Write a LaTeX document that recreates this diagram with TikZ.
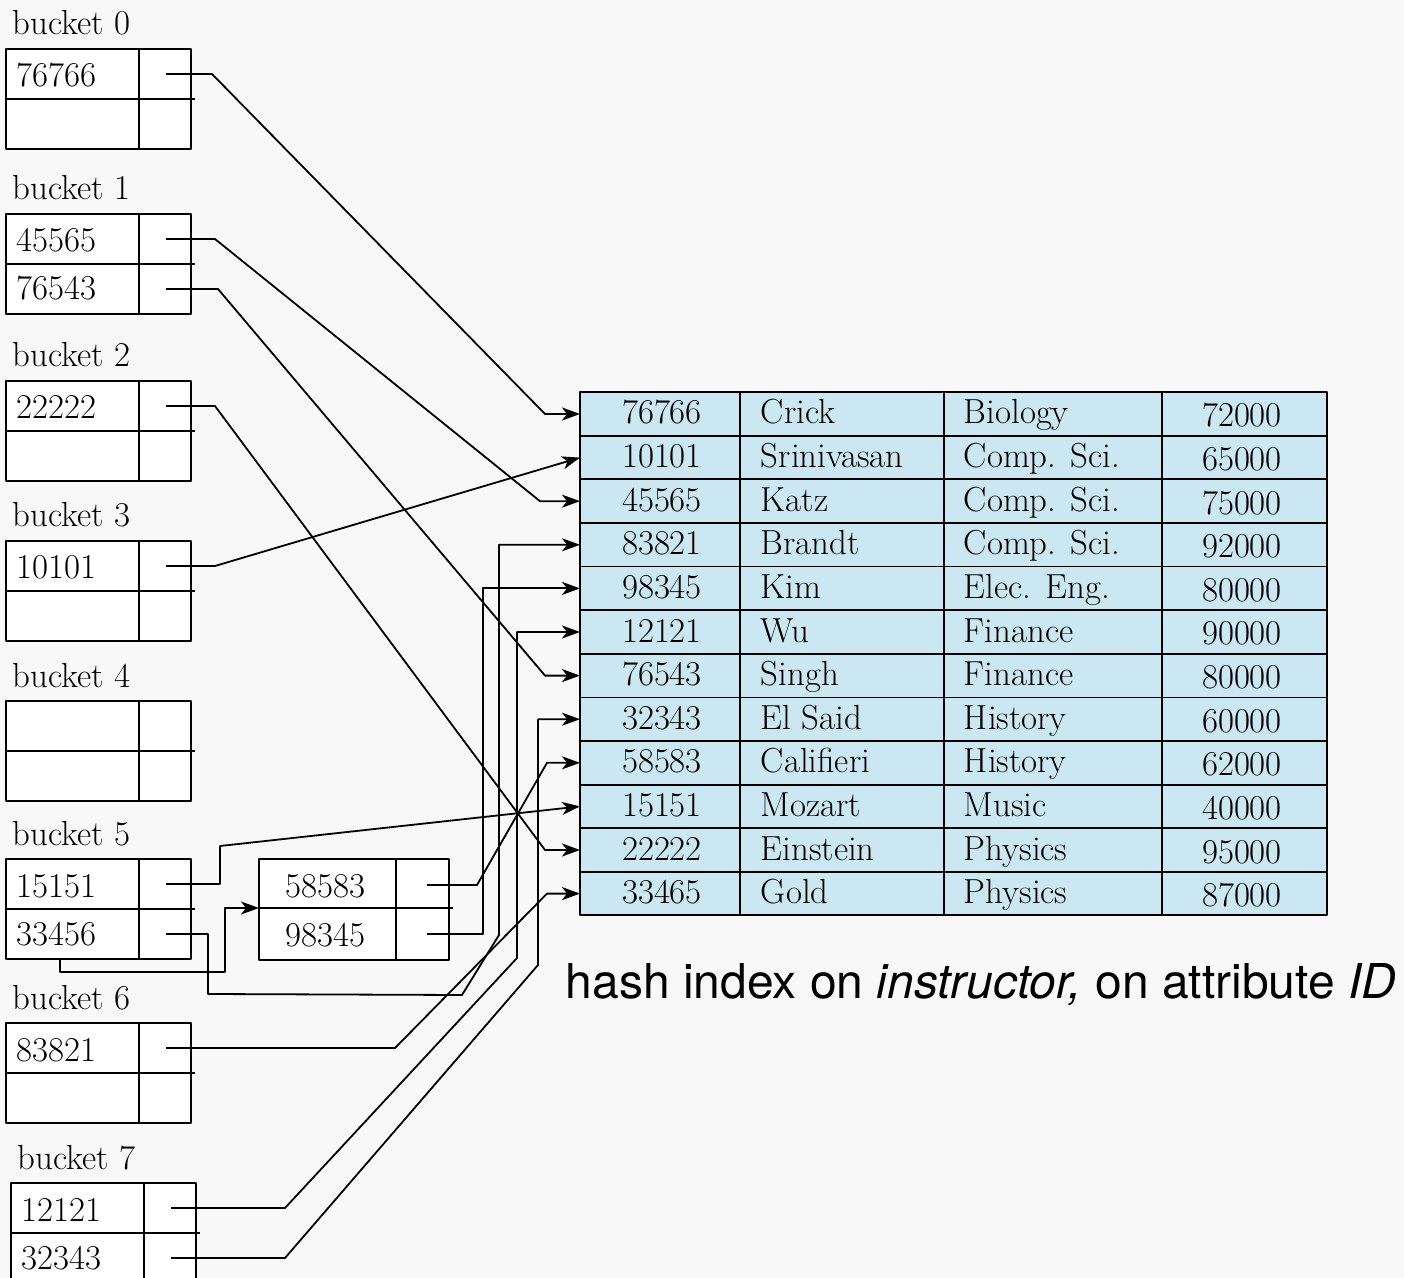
\documentclass[tikz,border=0pt]{standalone}
\usepackage{fontspec}
\newfontfamily\capfont{TeX Gyre Heros}
\usetikzlibrary{arrows.meta}
\definecolor{rowblue}{RGB}{203,231,241}
\definecolor{bggray}{RGB}{248,248,248}
\begin{document}
\begin{tikzpicture}[x=0.5pt,y=-0.5pt,line join=round,line width=0.9pt,
	>={Stealth[length=9pt,width=6.5pt,inset=2.5pt]}]
		\tikzset{key/.style={font=\fontsize{17.4}{20}\selectfont,inner sep=0pt,anchor=base west},
			cell/.style={font=\fontsize{17.4}{20}\selectfont,inner sep=0pt}}
		\fill[bggray] (0,0) rectangle (1404,1278);
		\useasboundingbox (0,0) rectangle (1404,1278);
		% buckets
		\foreach \k/\bx/\by/\ka/\kb in {0/6/49/76766/,1/6/214/45565/76543,2/6/381/22222/,3/6/541/10101/,
			4/6/701//,5/6/859/15151/33456,6/6/1023/83821/,7/11/1183/12121/32343}{
			\node[key] (lab\k) at (\bx+6,\by-14) {bucket \k};
			\draw[fill=white] (\bx,\by) rectangle (\bx+185,\by+100);
			\draw (\bx,\by+50) -- (\bx+189,\by+50);
			\draw (\bx+133,\by) -- (\bx+133,\by+100);
			\node[key] (k\k a) at (\bx+10,\by+38) {\ka};
			\node[key] (k\k b) at (\bx+10,\by+86) {\kb};
			\coordinate (b\k a) at (\bx+160,\by+25);
			\coordinate (b\k b) at (\bx+160,\by+75);
		}
		% overflow bucket
		\draw[fill=white] (259,859) rectangle (449,960);
		\draw (259,908) -- (453,908);
		\draw (396,859) -- (396,960);
		\node[key] (o5ka) at (285,897) {58583};
		\node[key] (o5kb) at (285,946) {98345};
		\coordinate (o5a) at (427,885);
		\coordinate (o5b) at (427,934);
		\coordinate (o5in) at (259,908);
		\coordinate (b5next) at (60,959);
		% instructor file
		\fill[rowblue] (580,392) rectangle (1327,915);
		\foreach \id/\nm/\dept/\sal [count=\i] in {76766/Crick/Biology/72000,10101/Srinivasan/Comp. Sci./65000,
			45565/Katz/Comp. Sci./75000,83821/Brandt/Comp. Sci./92000,98345/Kim/Elec. Eng./80000,
			12121/Wu/Finance/90000,76543/Singh/Finance/80000,32343/El Said/History/60000,
			58583/Califieri/History/62000,15151/Mozart/Music/40000,22222/Einstein/Physics/95000,
			33465/Gold/Physics/87000}{
			\pgfmathsetmacro\ry{414+(\i-1)*43.6}
			\coordinate (t\id) at (580,\ry);
			\node[cell,anchor=base] (id\id) at (662,\ry+10) {\id};
			\node[key] (nm\id) at (760,\ry+10) {\nm};
			\node[key] (dp\id) at (963,\ry+10) {\dept};
			\node[cell,anchor=base] (sl\id) at (1242,\ry+13) {\sal};
			\draw (580,\ry+21.8) -- (1327,\ry+21.8);
		}
		\draw (580,392) rectangle (1327,915);
		\foreach \cx in {740,944,1162} \draw (\cx,392) -- (\cx,915);
		% pointers
		\draw[->] (b0a) -- ++(46,0) -- (545,0 |- t76766) -- (t76766);
		\draw[->] (b1a) -- ++(49,0) -- (540,0 |- t45565) -- (t45565);
		\draw[->] (b1b) -- ++(52,0) -- (545,0 |- t76543) -- (t76543);
		\draw[->] (b2a) -- ++(49,0) -- (545,0 |- t22222) -- (t22222);
		\draw[->] (b3a) -- ++(49,0) -- (t10101);
		\draw[->] (b5a) -- ++(54,0) -- ++(0,-38) -- (t15151);
		\draw[->] (b5b) -- ++(42,0) -- ++(0,60) -- (462,995) -- (499,935) |- (t83821);
		\draw[->] (b5next) -- ++(0,13) -- ++(165,0) |- (o5in);
		\draw[->] (o5a) -- ++(50,0) -- (547,0 |- t58583) -- (t58583);
		\draw[->] (o5b) -- ++(56,0) |- (t98345);
		\draw[->] (b6a) -- ++(229,0) -- (547,0 |- t33465) -- (t33465);
		\draw[->] (b7a) -- ++(114,0) -- (517,958) |- (t12121);
		\draw[->] (b7b) -- ++(114,0) -- (538,965) |- (t32343);
		\node[anchor=base west,inner sep=0pt,font=\capfont\fontsize{24}{28}\selectfont] (cap) at (565,998)
			{hash index on \textit{instructor,} on attribute \textit{ID}};
		\end{tikzpicture}
\end{document}
